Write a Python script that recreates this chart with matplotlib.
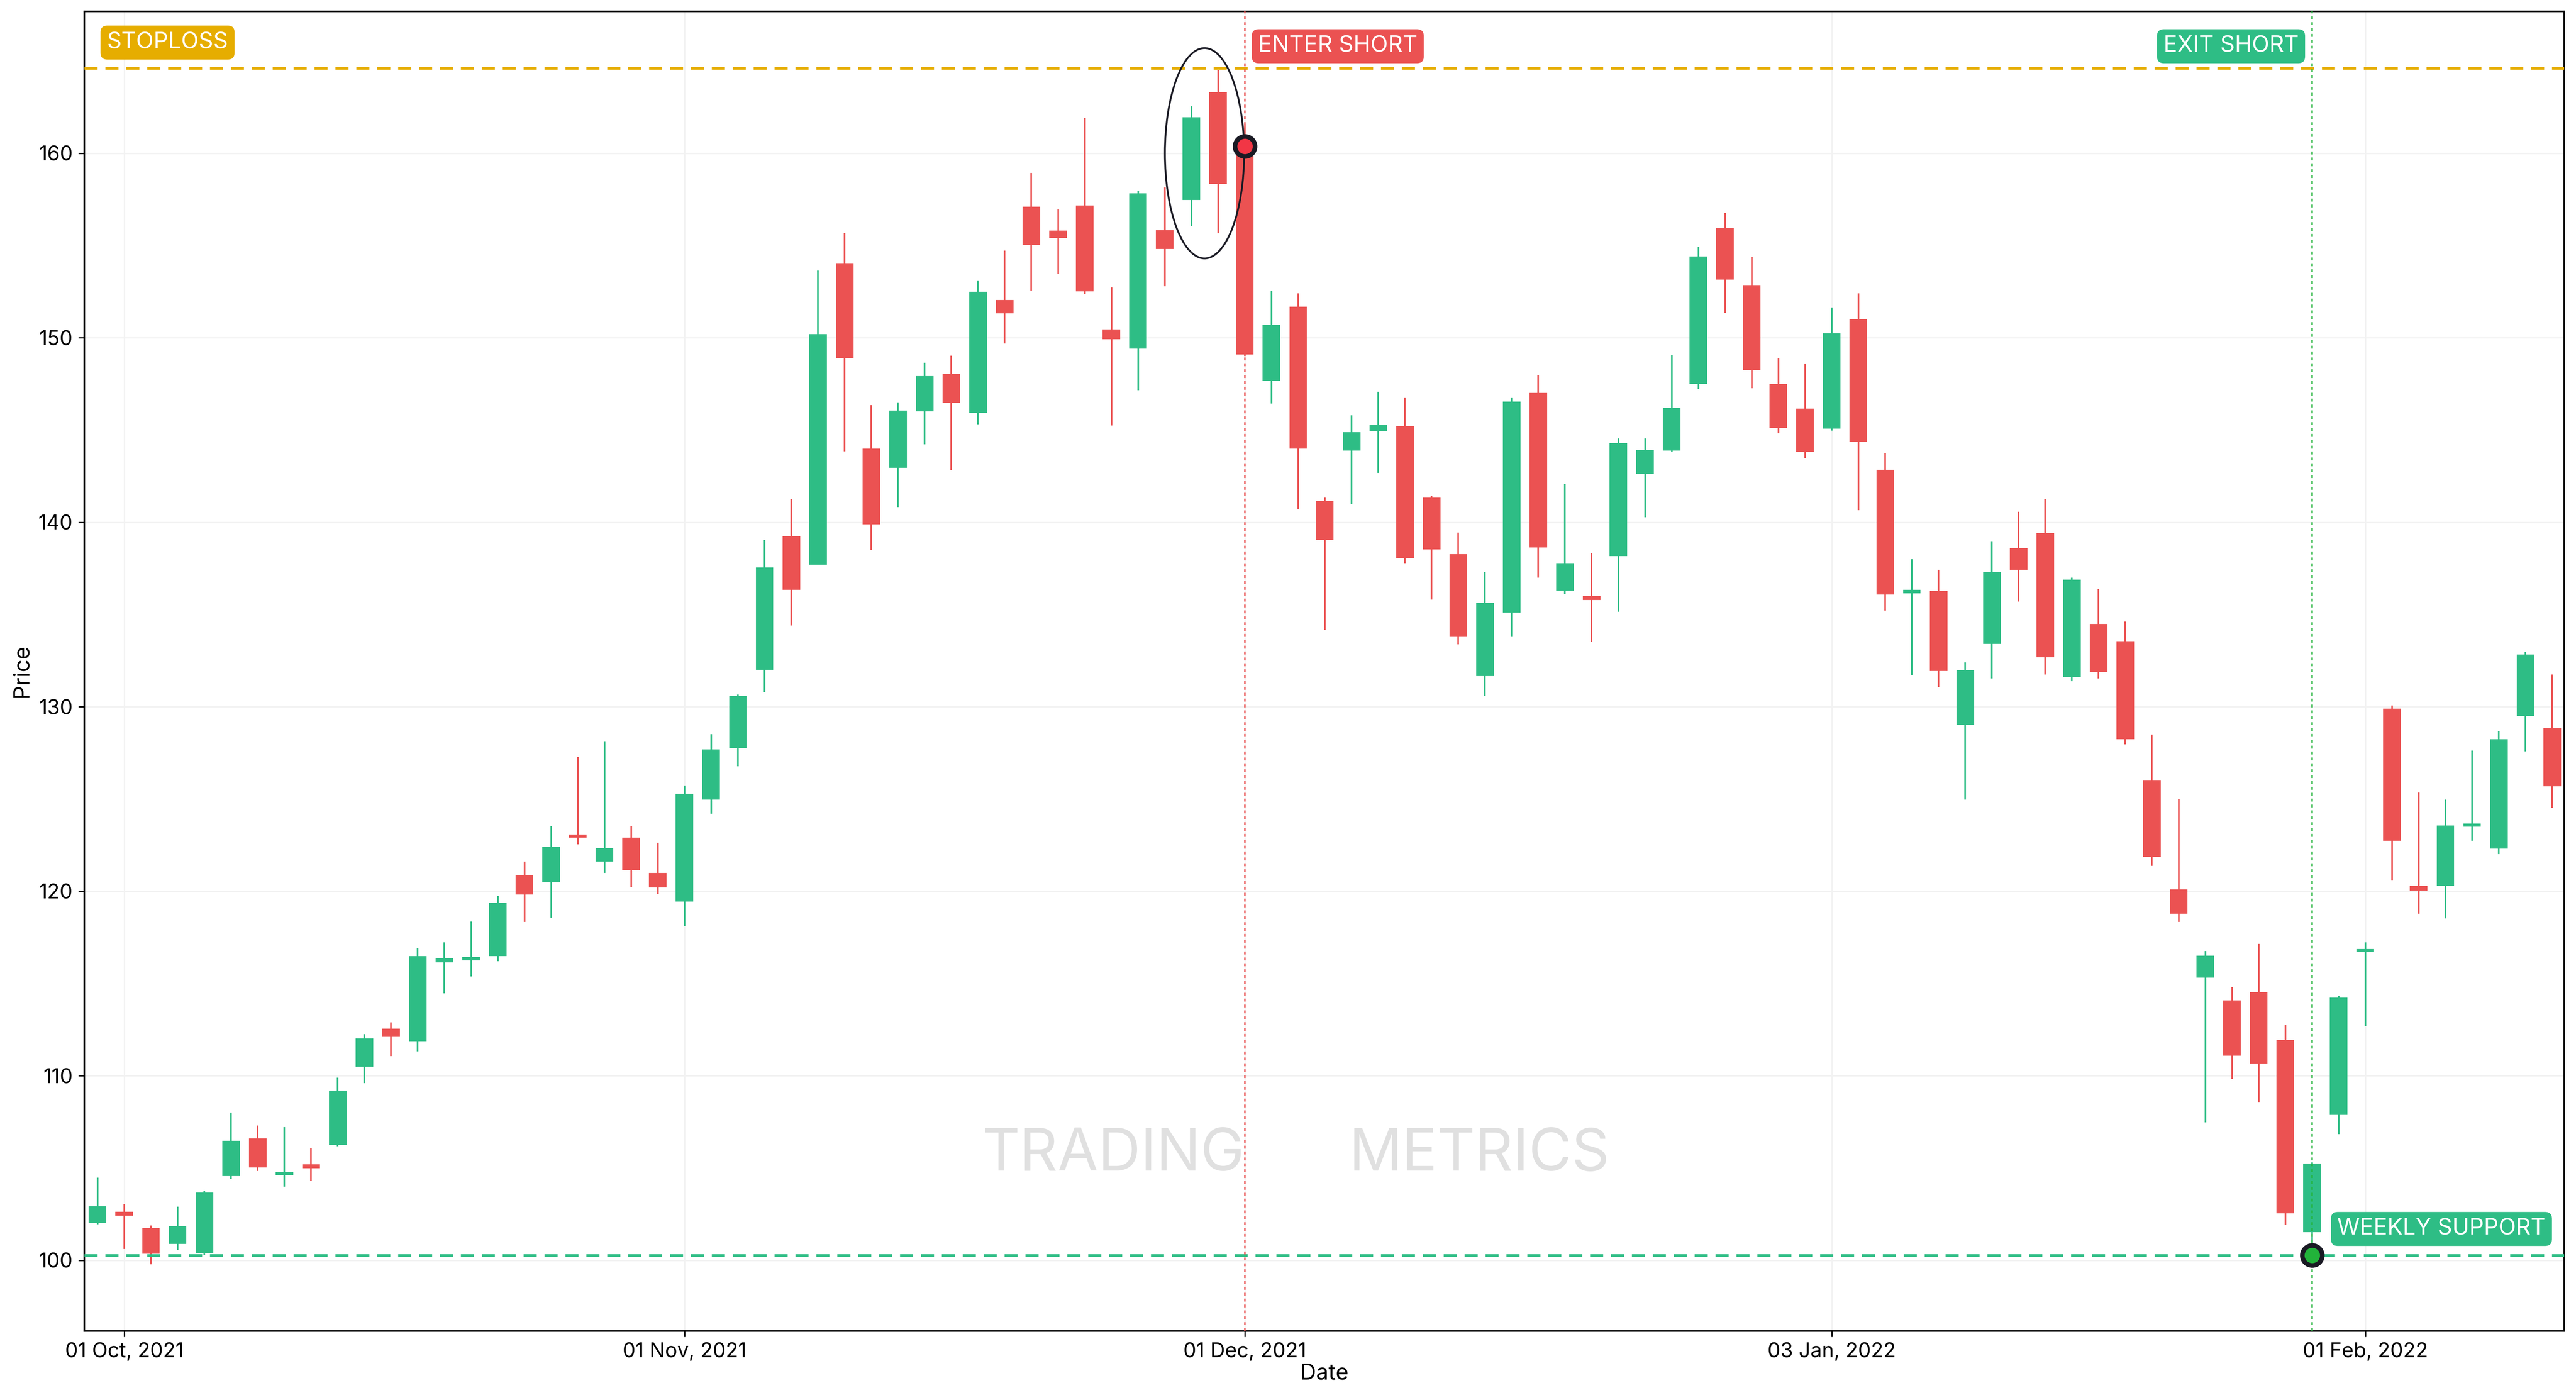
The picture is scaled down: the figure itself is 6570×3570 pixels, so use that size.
import matplotlib
matplotlib.use("Agg")
import matplotlib.pyplot as plt
from matplotlib.patches import Ellipse
import numpy as np

plt.rcParams['font.family'] = ['Inter', 'DejaVu Sans']

opens = [102.03,102.63,101.75,100.88,100.39,104.57,106.6,104.61,105.21,106.25,
         110.5,112.55,111.88,116.15,116.26,116.49,120.88,120.48,123.04,121.61,
         122.9,120.99,119.45,124.98,127.75,132.01,139.25,137.7,154.04,143.99,
         142.95,146.02,148.05,145.93,152.04,157.11,155.8,157.17,150.46,149.42,
         155.83,157.46,163.32,160.4,147.66,151.68,141.17,143.88,144.93,145.2,
         141.34,138.27,131.66,135.1,147.02,136.29,136.0,138.17,142.63,143.88,
         147.49,155.93,152.85,147.49,146.15,145.08,151.0,142.85,136.15,136.28,
         129.03,133.4,138.6,139.43,131.61,134.5,133.55,126.03,120.11,115.33,
         114.08,114.54,111.95,101.52,107.89,116.7,129.9,120.3,120.3,123.5,
         122.31,129.49,128.84]
closes = [102.93,102.42,100.35,101.85,103.67,106.48,105.03,104.7,105.0,109.2,
          112.02,112.11,116.49,116.38,116.45,119.38,119.82,122.42,122.9,122.33,
          121.15,120.21,125.28,127.69,130.58,137.56,136.33,150.19,148.91,139.88,
          146.05,147.93,146.47,152.49,151.33,155.02,155.41,152.52,149.93,157.82,
          154.81,161.95,158.34,149.1,150.71,144.0,139.05,144.88,145.27,138.07,
          138.54,133.78,135.63,146.54,138.63,137.78,135.78,144.29,143.9,146.2,
          154.41,153.15,148.24,145.12,143.83,150.25,144.36,136.09,136.2,131.95,
          131.99,137.31,137.42,132.68,136.89,131.88,128.24,121.86,118.79,116.51,
          111.08,110.66,102.54,105.24,114.23,116.75,122.73,120.04,123.57,123.6,
          128.24,132.83,125.69]
highs = [104.47,103.04,101.89,102.91,103.76,108.0,107.31,107.22,106.09,109.9,
         112.27,112.9,116.93,117.23,118.36,119.75,121.61,123.53,127.29,128.14,
         123.55,122.63,125.74,128.52,130.67,139.05,141.25,153.65,155.68,146.35,
         146.5,148.64,149.03,153.11,154.72,158.93,156.96,161.9,152.73,157.97,
         158.15,162.54,164.5,161.6,152.56,152.41,141.34,145.8,147.07,146.73,
         141.41,139.44,137.29,146.73,147.98,142.07,138.32,144.54,144.54,149.05,
         154.93,156.76,154.39,148.88,148.61,151.65,152.41,143.76,137.99,137.42,
         132.41,138.98,140.57,141.25,137.0,136.39,134.61,128.5,125.01,116.77,
         114.8,117.15,112.75,105.3,114.35,117.23,130.06,125.35,124.97,127.63,
         128.69,132.98,131.76]
lows = [101.96,100.62,99.79,100.58,100.3,104.41,104.84,103.99,104.31,106.18,
        109.6,111.07,111.33,114.46,115.39,116.22,118.34,118.57,122.54,121.0,
        120.23,119.84,118.13,124.2,126.77,130.79,134.4,137.7,143.84,138.48,
        140.83,144.23,142.83,145.31,149.69,152.55,153.44,152.37,145.25,147.15,
        152.8,156.07,155.66,149.0,146.44,140.7,134.17,140.98,142.68,137.78,
        135.8,133.39,130.59,133.8,137.0,136.1,133.51,135.15,140.27,143.8,
        147.22,151.34,147.27,144.83,143.49,144.97,140.65,135.22,131.73,131.08,
        124.97,131.54,135.71,131.76,131.38,131.54,127.97,121.37,118.33,107.48,
        109.83,108.58,101.9,100.27,106.83,112.68,120.61,118.79,118.52,122.73,
        122.01,127.59,124.52]

tick_idx = [1, 22, 43, 65, 85]
tick_labels = ['01 Oct, 2021', '01 Nov, 2021', '01 Dec, 2021', '03 Jan, 2022', '01 Feb, 2022']
y_ticks = [100, 110, 120, 130, 140, 150, 160]

stoploss = 164.6
support = 100.27
enter_idx, enter_price = 43, 160.37
exit_idx, exit_price = 83, 100.27

GREEN = '#2ebd85'
RED = '#eb5252'
ORANGE = '#e6ad00'

fig = plt.figure(figsize=(21.9, 11.9), dpi=300)
ax = fig.add_axes([0.0327, 0.0493, 0.9627, 0.9427])

x = np.arange(len(opens))
o = np.array(opens); c = np.array(closes)
cols = [GREEN if cc >= oo else RED for oo, cc in zip(o, c)]
bottom = np.minimum(o, c)
height = np.maximum(np.abs(c - o), 0.18)
ax.vlines(x, lows, highs, colors=cols, linewidth=1.0, zorder=2)
ax.bar(x, height, bottom=bottom, width=0.66, color=cols, zorder=3)

ax.axhline(stoploss, color=ORANGE, ls=(0, (5, 3)), lw=1.6, zorder=4)
ax.axhline(support, color=GREEN, ls=(0, (5, 3)), lw=1.6, zorder=4)
ax.axvline(enter_idx, color=RED, ls=(0, (2, 2)), lw=0.9, zorder=4)
ax.axvline(exit_idx, color='#22b33a', ls=(0, (2, 2)), lw=0.9, zorder=4)

ax.scatter([enter_idx], [enter_price], s=150, color='#f23645', edgecolor='#1a1a24', linewidth=2.8, zorder=6)
ax.scatter([exit_idx], [exit_price], s=150, color='#22b33a', edgecolor='#1a1a24', linewidth=2.8, zorder=6)

ax.add_patch(Ellipse((41.49, 160.0), 2.97, 11.4, fill=False, edgecolor='#1a1a24', lw=1.1, zorder=5))

def label(xx, yy, txt, col, ha):
    ax.text(xx, yy, txt, color='white', fontsize=14, ha=ha, va='center', zorder=7,
            bbox=dict(boxstyle='round,pad=0.28,rounding_size=0.3', fc=col, ec='none'))

label(0.35, 166.0, 'STOPLOSS', ORANGE, 'left')
label(enter_idx + 0.5, 165.8, 'ENTER SHORT', RED, 'left')
label(exit_idx - 0.5, 165.8, 'EXIT SHORT', GREEN, 'right')
label(exit_idx + 0.95, 101.7, 'WEEKLY SUPPORT', GREEN, 'left')

ax.text(0.468, 0.133, 'TRADING', transform=ax.transAxes, fontsize=36,
        color='#e0e0e0', ha='right', va='center', zorder=1)
ax.text(0.51, 0.133, 'METRICS', transform=ax.transAxes, fontsize=36,
        color='#e0e0e0', ha='left', va='center', zorder=1)

ax.set_xlim(-0.5, 92.45)
ax.set_ylim(96.17, 167.7)
ax.set_xticks(tick_idx)
ax.set_xticklabels(tick_labels, fontsize=12.5)
ax.set_yticks(y_ticks)
ax.tick_params(axis='y', labelsize=12.5)
ax.grid(True, color='#f2f2f2', lw=0.8, zorder=0)
ax.set_axisbelow(True)
ax.set_xlabel('Date', fontsize=13.5, labelpad=1)
ax.set_ylabel('Price', fontsize=13.5, labelpad=4)
for s in ax.spines.values():
    s.set_linewidth(1.0)

fig.savefig('out.png', dpi=300)
